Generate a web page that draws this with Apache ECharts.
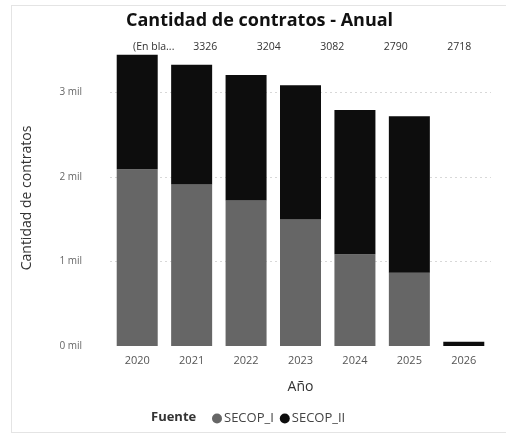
<!DOCTYPE html>
<html>
<head>
<meta charset="utf-8">
<script src="https://cdn.jsdelivr.net/npm/echarts@6/dist/echarts.min.js"></script>
<style>
  html, body { margin: 0; padding: 0; background: #fff; }
  #frame { position: absolute; left: 11px; top: 5px; width: 494px; height: 426px; border: 1px solid #e4e4e4; border-right: none; }
  #chart { position: absolute; left: 0; top: 0; width: 508px; height: 435px; }
</style>
</head>
<body>
<div id="frame"></div>
<div id="chart"></div>
<script>
  // datos del gráfico
  var anios = ['2020', '2021', '2022', '2023', '2024', '2025', '2026'];
  var secopI = [2090, 1910, 1720, 1495, 1085, 865, 0];
  var secopII = [1355, 1416, 1484, 1587, 1705, 1853, 50];
  var etiquetasTotal = ['(En bla...', '3326', '3204', '3082', '2790', '2718'];
  var ticksY = [0, 1000, 2000, 3000];

  var myChart = echarts.init(document.getElementById('chart'));
  var fuente = '"Open Sans", "Noto Sans", sans-serif';

  var option = {
    backgroundColor: 'transparent',
    animation: false,
    textStyle: { fontFamily: fuente },
    title: [{
      text: 'Cantidad de contratos - Anual',
      left: 121,
      top: 7,
      textStyle: { fontSize: 18, fontWeight: 'bold', color: '#111', fontFamily: fuente }
    }, {
      text: 'Fuente',
      left: 146,
      top: 406,
      textStyle: { fontSize: 13, fontWeight: 'bold', color: '#333', fontFamily: fuente }
    }],
    color: ['#666666', '#0d0d0d'],
    legend: {
      data: ['SECOP_I', 'SECOP_II'],
      icon: 'circle',
      itemWidth: 10,
      itemHeight: 10,
      itemGap: 6,
      left: 207,
      top: 407,
      textStyle: { fontSize: 13, color: '#444', padding: [0, 0, 0, -3] }
    },
    grid: {
      left: 110,
      right: 17,
      top: 50,
      bottom: 89,
      containLabel: false
    },
    xAxis: [{
      type: 'category',
      data: anios,
      name: 'Año',
      nameLocation: 'middle',
      nameGap: 34,
      nameTextStyle: { fontSize: 14, color: '#333' },
      axisLine: { show: false },
      axisTick: { show: false },
      axisLabel: { color: '#555', fontSize: 11, margin: 9 }
    }, {
      type: 'category',
      position: 'top',
      data: etiquetasTotal,
      axisLine: { show: false },
      axisTick: { show: false },
      axisLabel: {
        interval: 0,
        color: '#333',
        fontSize: 10.5,
        margin: -3,
        formatter: function (v, i) {
          return i === 0 ? '{a|' + v + '}' : v;
        },
        rich: { a: { fontSize: 10.5, color: '#333', padding: [0, 0, 0, 24] } }
      }
    }],
    yAxis: {
      type: 'value',
      min: 0,
      max: 3500,
      interval: 1000,
      name: 'Cantidad de contratos',
      nameLocation: 'middle',
      nameGap: 76,
      nameTextStyle: { fontSize: 14, color: '#333' },
      axisLine: { show: false },
      axisTick: { show: false },
      axisLabel: {
        color: '#666',
        fontSize: 10,
        margin: 28,
        formatter: function (v) {
          return ticksY.indexOf(v) >= 0 ? (v / 1000) + ' mil' : '';
        }
      },
      splitLine: { show: false }
    },
    series: [{
      name: 'SECOP_I',
      type: 'bar',
      stack: 'total',
      barWidth: 41,
      z: 3,
      data: secopI,
      markLine: {
        silent: true,
        z: 1,
        symbol: 'none',
        label: { show: false },
        lineStyle: { color: '#d8d8d8', type: [2, 3], width: 1 },
        data: ticksY.slice(1).map(function (t) { return { yAxis: t }; })
      }
    }, {
      name: 'SECOP_II',
      type: 'bar',
      stack: 'total',
      barWidth: 41,
      z: 3,
      data: secopII
    }]
  };

  myChart.setOption(option, true);
</script>
</body>
</html>
